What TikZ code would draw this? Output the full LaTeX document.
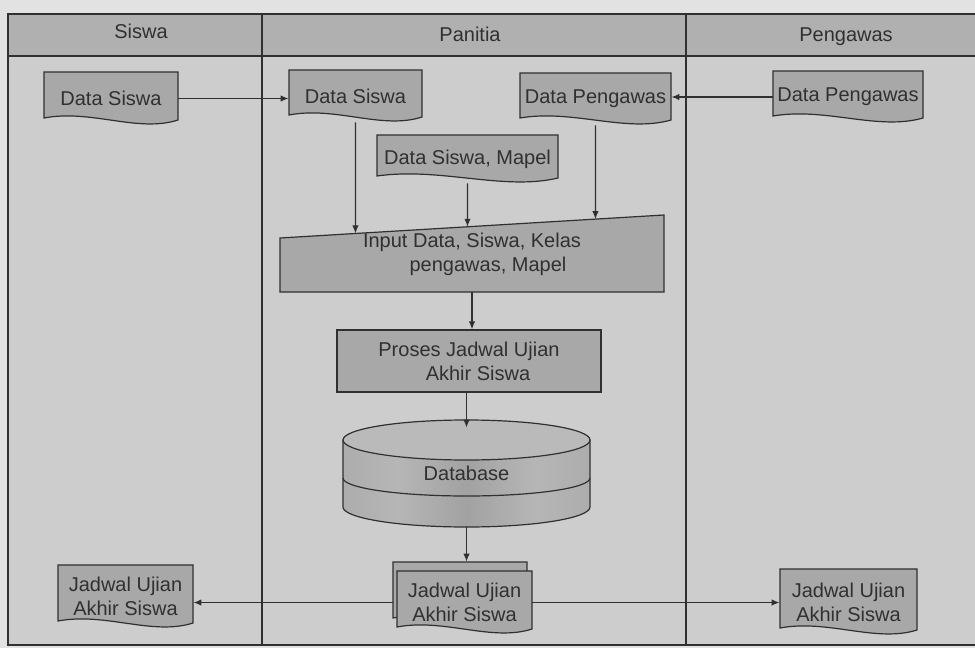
\documentclass[tikz,border=0pt]{standalone}
\usepackage{fontspec}
\setmainfont{Liberation Sans}
\usetikzlibrary{arrows.meta,calc}
\pgfdeclarelayer{lanes}
\pgfdeclarelayer{shapes}
\pgfsetlayers{lanes,shapes,main}
\definecolor{pagebg}{HTML}{E2E2E2}
\definecolor{lanebg}{HTML}{CDCDCD}
\definecolor{headbg}{HTML}{B0B0B0}
\definecolor{shapebg}{HTML}{A8A8A8}
\definecolor{topbg}{HTML}{BABABA}
\definecolor{ink}{HTML}{303030}
\definecolor{cA}{HTML}{A2A2A2}
\definecolor{cB}{HTML}{B6B6B6}
\definecolor{cC}{HTML}{AAAAAA}
\pgfdeclarehorizontalshading{cylshade}{100bp}{color(0bp)=(cA); color(12bp)=(cB); color(22bp)=(cC); color(36bp)=(cB); color(50bp)=(cA); color(64bp)=(cB); color(78bp)=(cC); color(90bp)=(cB); color(100bp)=(cA)}
\tikzset{
  frameline/.style={draw=ink, line width=1pt},
  shapeline/.style={draw=ink, line width=0.6pt, fill=shapebg},
  txt/.style={font=\fontsize{10}{12}\selectfont, text=ink, align=center, inner sep=0pt},
  ghost/.style={txt, draw=none, fill=none, rectangle},
  arr/.style={draw=ink, line width=0.6pt, -{Latex[length=4pt,width=3.2pt]}},
}
% #1 name, #2 x1, #3 y1 (top), #4 x2, #5 y2 (lowest point of wave), #6 text
\newcommand{\docshape}[6]{%
  \begin{pgfonlayer}{shapes}
    \filldraw[shapeline] ({#2},{#3}) -- ({#4},{#3}) -- ({#4},{#5-5})
      .. controls ({#4-0.3*(#4-#2)},{#5+8}) and ({#2+0.35*(#4-#2)},{#5-16}) .. ({#2},{#5-7}) -- cycle;
  \end{pgfonlayer}
  \node[ghost, minimum width={(#4-#2)*0.5pt}, minimum height={(#5-#3)*0.5pt}] (#1) at ({(#2+#4)/2},{(#3+#5)/2}) {#6};
}
\begin{document}
\begin{tikzpicture}[x=0.5pt, y=-0.5pt]
\useasboundingbox (0,0) rectangle (975,648);
% lanes
\begin{pgfonlayer}{lanes}
  \fill[pagebg] (0,0) rectangle (975,648);
  \fill[lanebg] (8,14) rectangle (975,645);
  \fill[headbg] (8,14) rectangle (975,56);
  \draw[frameline] (975,14) -- (8,14) -- (8,645) -- (975,645);
  \draw[frameline] (8,56) -- (975,56);
  \draw[frameline] (262,14) -- (262,645);
  \draw[frameline] (686,14) -- (686,645);
\end{pgfonlayer}
\node[txt] (hsiswa) at (141,31) {Siswa};
\node[txt] (hpanitia) at (470,34) {Panitia};
\node[txt] (hpengawas) at (846,37) {Pengawas};

% documents
\docshape{ds1}{44}{72}{178}{125}{Data Siswa}
\docshape{ds2}{289}{70}{422}{122}{Data Siswa}
\docshape{dp1}{520}{73}{671}{125}{Data Pengawas}
\docshape{dp2}{773}{71}{923}{123}{Data Pengawas}
\docshape{dsm}{377}{135}{558}{183}{Data Siswa, Mapel}

% manual input
\begin{pgfonlayer}{shapes}
  \filldraw[shapeline] (280,238) -- (664,215) -- (664,292) -- (280,292) -- cycle;
\end{pgfonlayer}
\coordinate (inTL) at (280,238);
\coordinate (inTR) at (664,215);
\node[ghost, minimum width=192pt, minimum height=27pt,
      label={[txt, yshift=5.5pt]center:{Input Data, Siswa, Kelas\\\hspace*{1.6em}pengawas, Mapel}}] (inp) at (472,265) {};

% process
\node[shapeline, txt, minimum width=132pt, minimum height=31pt] (proc) at (469,361) {Proses Jadwal Ujian\\\hspace*{0.9em}Akhir Siswa};

% database cylinder
\begin{pgfonlayer}{shapes}
  \begin{scope}[shift={(466.5,440)}, x=1pt, y=1pt]
    \shadedraw[shading=cylshade, draw=ink, line width=0.6pt]
      (-61.75,0) -- (-61.75,-33.5)
      arc[start angle=180, end angle=360, x radius=61.75pt, y radius=10pt]
      -- (61.75,0) -- cycle;
    \draw[ink, line width=0.6pt] (-61.75,-19) arc[start angle=180, end angle=360, x radius=61.75pt, y radius=9pt];
    \filldraw[fill=topbg, draw=ink, line width=0.6pt] (0,0) ellipse [x radius=61.75pt, y radius=10pt];
  \end{scope}
\end{pgfonlayer}
\node[ghost, minimum width=123.5pt, minimum height=53.5pt] (db) at (466.5,473.5) {Database};

% multiple documents
\docshape{multiB}{393}{562}{527}{625}{}
\docshape{multi}{397}{571}{532}{634}{Jadwal Ujian\\Akhir Siswa}

% outputs
\docshape{out1}{58}{565}{193}{628}{Jadwal Ujian\\Akhir Siswa}
\docshape{out2}{780}{569}{917}{635}{Jadwal Ujian\\Akhir Siswa}

% connectors
\draw[arr] (ds1.east) -- (ds1.east -| ds2.west);
\draw[arr] (dp2.west) -- (dp2.west -| dp1.east);
\draw[arr] (ds2.south) -- (intersection of ds2.south--ds2.north and inTL--inTR);
\draw[arr] (dsm.south) -- (intersection of dsm.south--dsm.north and inTL--inTR);
\draw[arr] (dp1.south) -- (intersection of dp1.south--dp1.north and inTL--inTR);
\draw[arr] (inp.south) -- (inp.south |- proc.north);
\draw[arr] (db.north |- proc.south) -- ([yshift=-4pt]db.north);
\draw[arr] (db.south) -- (db.south |- multiB.north);
\draw[arr] (multi.west -| multiB.west) -- (multi.west -| out1.east);
\draw[arr] (multi.east) -- (multi.east -| out2.west);
\end{tikzpicture}
\end{document}
